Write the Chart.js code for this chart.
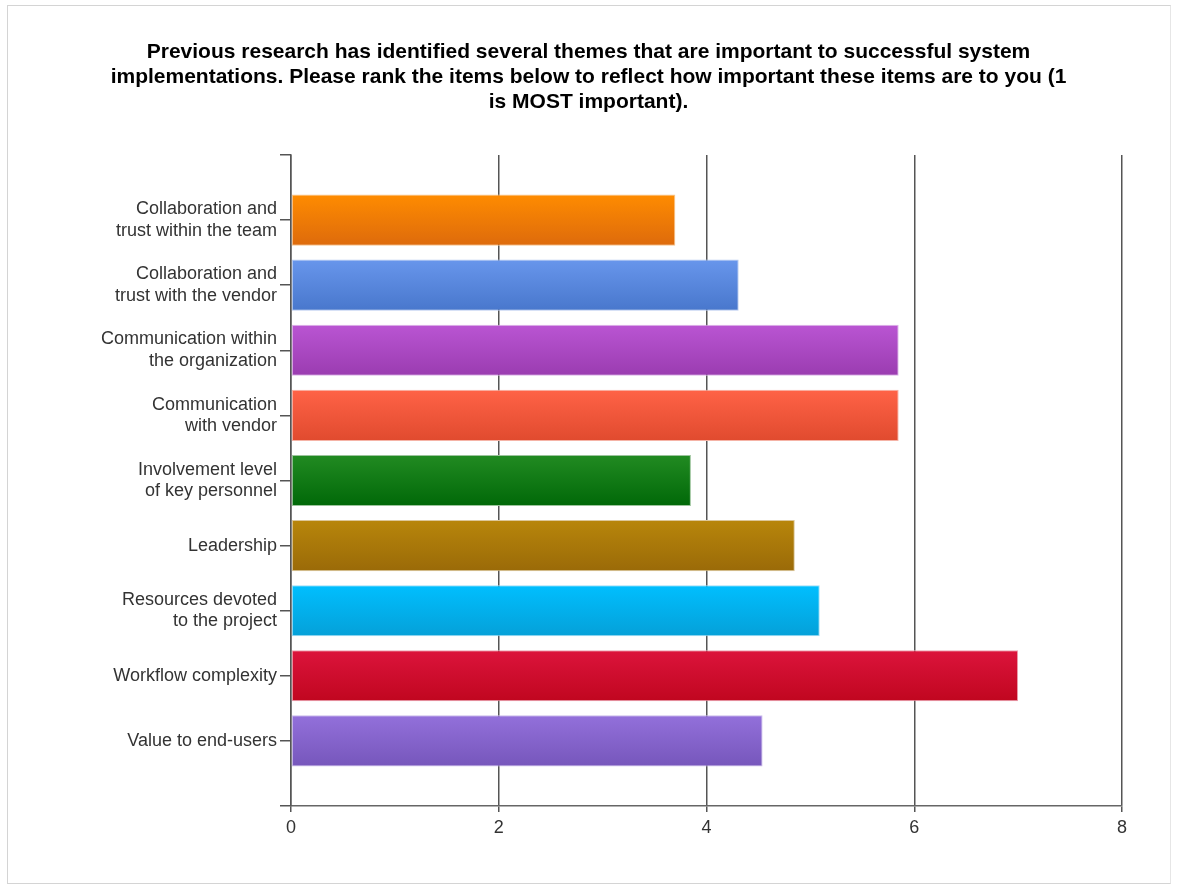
<!DOCTYPE html>
<html>
<head>
<meta charset="utf-8">
<script src="https://cdn.jsdelivr.net/npm/chart.js@4.4.1/dist/chart.umd.min.js"></script>
<style>
  body { margin: 0; background: #fff; }
  #frame { position: absolute; left: 7px; top: 5px; width: 1162px; height: 877px; border: 1px solid #d4d4d4; border-right-color: #e6e6e6; }
  #wrap { position: absolute; left: 0; top: 0; width: 1177px; height: 884px; }
</style>
</head>
<body>
<div id="frame"></div>
<div id="wrap"><canvas id="myChart" width="1177" height="884"></canvas></div>
<script>
const titleLines = [
  'Previous research has identified several themes that are important to successful system',
  'implementations. Please rank the items below to reflect how important these items are to you (1',
  'is MOST important).'
];

const categories = [
  ['Collaboration and', 'trust within the team'],
  ['Collaboration and', 'trust with the vendor'],
  ['Communication within', 'the organization'],
  ['Communication', 'with vendor'],
  ['Involvement level', 'of key personnel'],
  'Leadership',
  ['Resources devoted', 'to the project'],
  'Workflow complexity',
  'Value to end-users'
];

const rankValues = [3.70, 4.31, 5.85, 5.85, 3.85, 4.85, 5.09, 7.00, 4.54];

const xTicks = [0, 2, 4, 6, 8];

// top / bottom colour of each bar's gradient
const topColors = ['#ff8c00', '#6896ec', '#ba55d3', '#ff6347', '#228b22', '#b8860b', '#00bfff', '#dc143c', '#9370db'];
const bottomColors = ['#dd6a0c', '#4877cc', '#9a3cb0', '#e04a2e', '#006808', '#9a6a08', '#05a0d8', '#c0061f', '#7656bb'];
const edgeColors = ['#f7c58f', '#b9cbef', '#dcb3e8', '#f5b3a6', '#9cc49c', '#dcc79a', '#9fdcf5', '#eba3b1', '#cbbcea'];

// empty slot above and below, like the original axis
const labels = [''].concat(categories, ['']);
const values = [null].concat(rankValues, [null]);

const ctx = document.getElementById('myChart').getContext('2d');

new Chart(ctx, {
  type: 'bar',
  data: {
    labels: labels,
    datasets: [{
      data: values,
      backgroundColor: (c) => {
        const i = c.dataIndex - 1;
        if (i < 0 || i >= rankValues.length) return 'transparent';
        const y = c.chart.scales.y;
        if (!y || !c.chart.chartArea) return topColors[i];
        const cy = y.getPixelForValue(c.dataIndex);
        const g = c.chart.ctx.createLinearGradient(0, cy - 26, 0, cy + 26);
        g.addColorStop(0, topColors[i]);
        g.addColorStop(1, bottomColors[i]);
        return g;
      },
      borderColor: (c) => edgeColors[c.dataIndex - 1] || 'transparent',
      borderWidth: 1,
      borderSkipped: false,
      categoryPercentage: 1,
      barPercentage: 0.785
    }]
  },
  options: {
    indexAxis: 'y',
    responsive: false,
    animation: false,
    layout: { padding: 0 },
    plugins: {
      legend: { display: false },
      tooltip: { enabled: false },
      title: {
        display: true,
        text: titleLines,
        color: '#000',
        font: { family: 'Liberation Sans', size: 21, weight: 'bold', lineHeight: 1.19 },
        padding: { top: 40, bottom: 40 }
      }
    },
    scales: {
      x: {
        min: 0,
        max: 8,
        afterBuildTicks: (s) => { s.ticks = xTicks.map(v => ({ value: v })); },
        afterFit: (s) => { s.height = 78; },
        grid: { color: '#555', lineWidth: 1.5, tickLength: 6, drawTicks: true },
        border: { display: true, color: '#666', width: 1.5 },
        ticks: { color: '#333', padding: 5, font: { family: 'Liberation Sans', size: 18 } }
      },
      y: {
        offset: false,
        afterFit: (s) => { s.width = 291; },
        grid: { offset: false, drawOnChartArea: false, color: '#555', lineWidth: 1.5, tickLength: 11 },
        border: { display: true, color: '#555', width: 1.5 },
        ticks: {
          autoSkip: false,
          color: '#333',
          padding: 3,
          font: { family: 'Liberation Sans', size: 18, lineHeight: 1.2 }
        }
      },
      // empty right-hand margin so the title stays centred on the page
      yRight: {
        type: 'linear',
        position: 'right',
        afterFit: (s) => { s.width = 55; },
        grid: { display: false },
        border: { display: false },
        ticks: { display: false }
      }
    }
  }
});
</script>
</body>
</html>
